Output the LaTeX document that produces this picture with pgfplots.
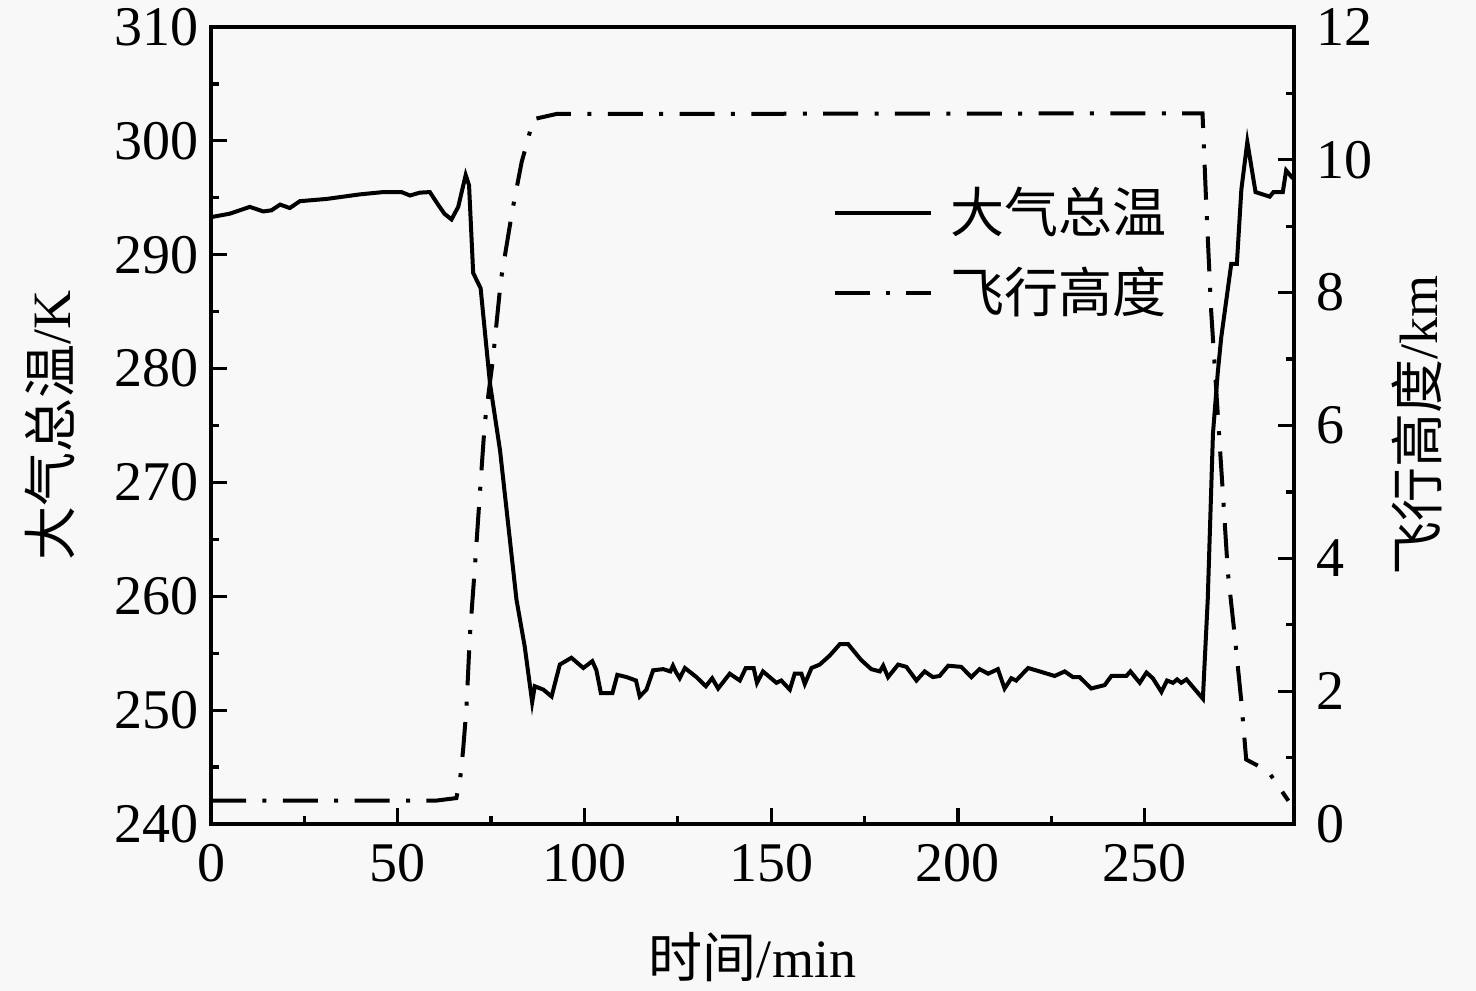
\documentclass[border=0pt]{standalone}
\usepackage{fontspec}
\setmainfont{Liberation Serif}
\newfontfamily\cjk{Noto Sans CJK SC}
\usepackage{pgfplots}
\pgfplotsset{compat=1.18}
\definecolor{bg}{RGB}{248,248,248}
\pgfplotsset{
  common/.style={
    at={(0,0)}, anchor=south west, scale only axis,
    width=270.75pt, height=199.25pt,
    xmin=0, xmax=290,
    tick align=inside,
    major tick length=4pt, minor tick length=2pt,
    axis line style={line width=1pt},
    every tick/.style={line width=0.8pt, black},
    tick label style={font=\fontsize{14}{16}\selectfont},
    label style={font=\fontsize{13.5}{16}\selectfont},
    /pgf/number format/assume math mode=true,
    /pgf/number format/1000 sep={},
  }
}
\begin{document}
\begin{tikzpicture}
\fill[bg] (-52.75pt,-41.75pt) rectangle (316.25pt,206pt);
\begin{axis}[common, name=ax,
  ymin=240, ymax=310,
  xtick={0,50,...,250}, minor x tick num=1,
  ytick={240,250,...,310}, minor y tick num=1,
  xtick pos=bottom, ytick pos=left,
  xlabel={{\cjk 时间}/min}, ylabel={{\cjk 大气总温}/K},
  xlabel style={at={(axis description cs:0.5,-0.1669)}, anchor=center},
  ylabel style={at={(axis description cs:-0.1487,0.5)}, anchor=center},
  xticklabel style={yshift=-1.5pt},
  yticklabel style={xshift=0.5pt},
]
\addplot[line width=1pt, black] coordinates {
(0,293.3) (5,293.6) (10.4,294.2) (14,293.8) (16.2,293.9) (18.5,294.4) (21.1,294.1)
(23.8,294.7) (31,294.9) (39.9,295.3) (46.1,295.5) (51,295.5) (53.3,295.2) (55.9,295.45)
(58.6,295.5) (60.8,294.4) (62.5,293.6) (64.4,293.1) (66.2,294.2) (68.2,297.0) (69.1,296.1)
(70.2,288.4) (72.2,287.05) (74.7,278.7) (77.4,272.8) (81.8,259.7) (84,255.6) (86,250.7)
(86.7,252.1) (89,251.8) (91.2,251.2) (93.4,254.0) (96.5,254.6) (99.7,253.7) (102.1,254.3)
(103.2,253.5) (104.4,251.5) (107.5,251.5) (108.8,253.1) (111.3,252.9) (113.8,252.6)
(114.8,251.2) (116.6,251.8) (118.4,253.5) (121.1,253.6) (123.0,253.4) (123.7,253.9)
(124.4,253.4) (125.5,252.8) (126.9,253.7) (130.0,252.9) (132.5,252.1) (134.2,252.8)
(135.8,251.9) (138.9,253.2) (141.6,252.6) (143.2,253.7) (145.3,253.7) (146.2,252.4)
(147.8,253.4) (151.4,252.4) (152.7,252.6) (155,251.8) (156.3,253.2) (158.1,253.2)
(159,252.3) (160.8,253.7) (163,254.0) (165.7,254.8) (168.4,255.8) (170.6,255.8)
(174.1,254.4) (176.8,253.6) (179.1,253.4) (180,253.9) (181.3,252.9) (184,254.0)
(186.2,253.8) (188.9,252.6) (191.1,253.4) (193.3,252.9) (195.1,253.0) (197.4,253.9)
(200.9,253.8) (203.6,252.9) (205.8,253.6) (208.1,253.2) (210.7,253.6) (212.5,251.9)
(214.3,252.8) (215.6,252.6) (218.8,253.7) (221.9,253.4) (225.9,253.0) (228.6,253.4)
(230.8,252.9) (232.6,252.9) (235.7,251.9) (239.3,252.2) (241.1,253.0) (245.1,253.0)
(246.2,253.4) (248.7,252.4) (250.5,253.3) (252.2,252.8) (254.5,251.6) (256,252.6)
(257.6,252.4) (258.7,252.7) (259.8,252.4) (261.2,252.7) (265.6,251.0) (266.9,259.7)
(268.3,274.3) (269.6,279.7) (270.5,282.7) (273.2,289.2) (274.7,289.2) (275.9,295.7)
(277.5,299.9) (279.7,295.5) (283.5,295.1) (284.5,295.5) (287,295.5) (287.9,297.4)
(289.7,296.7)
};
\end{axis}
\begin{axis}[common,
  ymin=0, ymax=12,
  axis x line=none, axis y line*=right,
  ytick={0,2,...,12}, minor y tick num=1,
  ylabel={{\cjk 飞行高度}/km},
  ylabel style={at={(axis description cs:1.1136,0.5)}, anchor=center},
  yticklabel style={xshift=2pt},
  legend style={draw=none, fill=none, at={(axis description cs:0.5621,0.7165)},
    anchor=west, font=\fontsize{13.5}{16}\selectfont, row sep=3pt,
    nodes={inner sep=2pt},
    /tikz/every odd column/.append style={column sep=2.5pt}},
  legend cell align=left,
  legend image code/.code={\draw[#1] (0pt,0pt) -- (24pt,0pt);},
]
\addlegendimage{line width=1pt, black}
\addlegendentry{\cjk 大气总温}
\addplot[line width=1pt, black, dash pattern=on 8.75pt off 4.1pt on 1pt off 4.1pt] coordinates {
(0,0.35) (60,0.35) (65.7,0.39) (66.7,0.67) (67.5,1.11) (68.4,1.74) (69.3,2.82) (70.7,3.9)
(72,4.98) (73.3,6.03) (75.5,7.0) (77.6,8.18) (80.7,9.24) (83.2,9.97) (84.9,10.31)
(86.2,10.61) (92.5,10.69) (265.5,10.7) (266.5,9.33) (267.8,7.74) (269.6,6.16) (271,4.94)
(272.3,3.78) (274.1,2.85) (275.9,1.84) (277.2,0.97) (283,0.8) (288.5,0.35)
};
\addlegendentry{\cjk 飞行高度}
\end{axis}
\pgfresetboundingbox
\path (-52.75pt,-41.75pt) rectangle (316.25pt,206pt);
\end{tikzpicture}
\end{document}
